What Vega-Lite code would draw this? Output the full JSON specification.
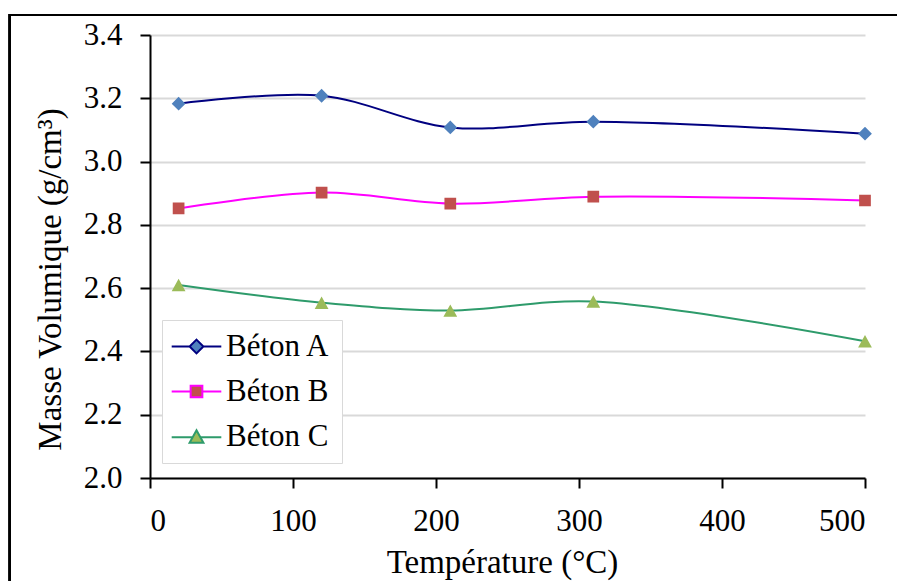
{
  "$schema": "https://vega.github.io/schema/vega-lite/v6.json",
  "width": 715,
  "height": 443,
  "autosize": "none",
  "padding": {"left": 150, "top": 35, "right": 32, "bottom": 103},
  "background": "white",
  "config": {
    "font": "Liberation Serif",
    "view": {"stroke": null},
    "axis": {
      "labelFont": "Liberation Serif",
      "titleFont": "Liberation Serif",
      "labelFontSize": 31,
      "titleFontSize": 33,
      "labelColor": "black",
      "titleColor": "black",
      "titleFontWeight": "normal",
      "domainColor": "black",
      "domainWidth": 2,
      "tickColor": "black",
      "tickWidth": 2,
      "tickSize": 10,
      "gridColor": "#D9D9D9",
      "gridWidth": 2
    },
    "legend": {
      "labelFont": "Liberation Serif",
      "labelFontSize": 31,
      "labelColor": "black"
    }
  },
  "data": {
    "values": [
      {"series": "Béton A", "temp": 20, "rho": 3.183},
      {"series": "Béton A", "temp": 120, "rho": 3.208},
      {"series": "Béton A", "temp": 210, "rho": 3.108},
      {"series": "Béton A", "temp": 310, "rho": 3.126},
      {"series": "Béton A", "temp": 500, "rho": 3.088},
      {"series": "Béton B", "temp": 20, "rho": 2.852},
      {"series": "Béton B", "temp": 120, "rho": 2.902},
      {"series": "Béton B", "temp": 210, "rho": 2.867},
      {"series": "Béton B", "temp": 310, "rho": 2.889},
      {"series": "Béton B", "temp": 500, "rho": 2.877},
      {"series": "Béton C", "temp": 20, "rho": 2.61},
      {"series": "Béton C", "temp": 120, "rho": 2.554},
      {"series": "Béton C", "temp": 210, "rho": 2.529},
      {"series": "Béton C", "temp": 310, "rho": 2.558},
      {"series": "Béton C", "temp": 500, "rho": 2.432}
    ]
  },
  "encoding": {
    "x": {
      "field": "temp", "type": "quantitative",
      "scale": {"domain": [0, 500], "nice": false},
      "axis": {"values": [0, 100, 200, 300, 400, 500], "grid": false, "title": "Température (°C)", "labelPadding": 18, "titleX": 352, "titleY": 94, "titleBaseline": "alphabetic", "titleAnchor": null}
    },
    "y": {
      "field": "rho", "type": "quantitative",
      "scale": {"domain": [2.0, 3.4], "nice": false, "zero": false},
      "axis": {"values": [2.0, 2.2, 2.4, 2.6, 2.8, 3.0, 3.2, 3.4], "format": ".1f", "grid": true, "title": "Masse Volumique (g/cm³)", "labelPadding": 18, "titleX": -100, "titleY": 244, "titleBaseline": "middle", "titleAnchor": null}
    }
  },
  "layer": [
    {
      "mark": {"type": "rect", "fill": null, "stroke": "black", "strokeWidth": 2, "clip": false},
      "encoding": {
        "x": {"datum": -98, "type": "quantitative"},
        "x2": {"datum": 560},
        "y": {"datum": 3.463, "type": "quantitative"},
        "y2": {"datum": 1.5}
      }
    },
    {
      "mark": {"type": "line", "interpolate": "catmull-rom", "strokeWidth": 2},
      "encoding": {
        "stroke": {
          "field": "series", "type": "nominal",
          "scale": {"domain": ["Béton A", "Béton B", "Béton C"], "range": ["#000080", "#FF00FF", "#2E9B6B"]},
          "legend": {
            "title": null, "orient": "none", "legendX": 12, "legendY": 285,
            "padding": 11, "strokeColor": "#D9D9D9", "fillColor": "white",
            "symbolSize": 190, "symbolStrokeWidth": 2, "rowPadding": 13,
            "symbolOffset": 8, "labelOffset": 14
          }
        }
      }
    },
    {
      "mark": {"type": "point", "filled": true, "opacity": 1, "size": 190, "strokeWidth": 0},
      "encoding": {
        "fill": {
          "field": "series", "type": "nominal",
          "scale": {"domain": ["Béton A", "Béton B", "Béton C"], "range": ["#4F81BD", "#C0504D", "#9BBB59"]},
          "legend": {"title": null}
        },
        "shape": {
          "field": "series", "type": "nominal",
          "scale": {"domain": ["Béton A", "Béton B", "Béton C"], "range": [
            "M-3.6,0H-1M1,0H3.6M0,-1L1,0L0,1L-1,0Z",
            "M-3.6,0H-0.85M0.85,0H3.6M-0.85,-0.85H0.85V0.85H-0.85Z",
            "M-3.6,0.1H-0.5M0.5,0.1H3.6M0,-0.9L1,0.9L-1,0.9Z"
          ]},
          "legend": {"title": null}
        }
      }
    }
  ]
}
